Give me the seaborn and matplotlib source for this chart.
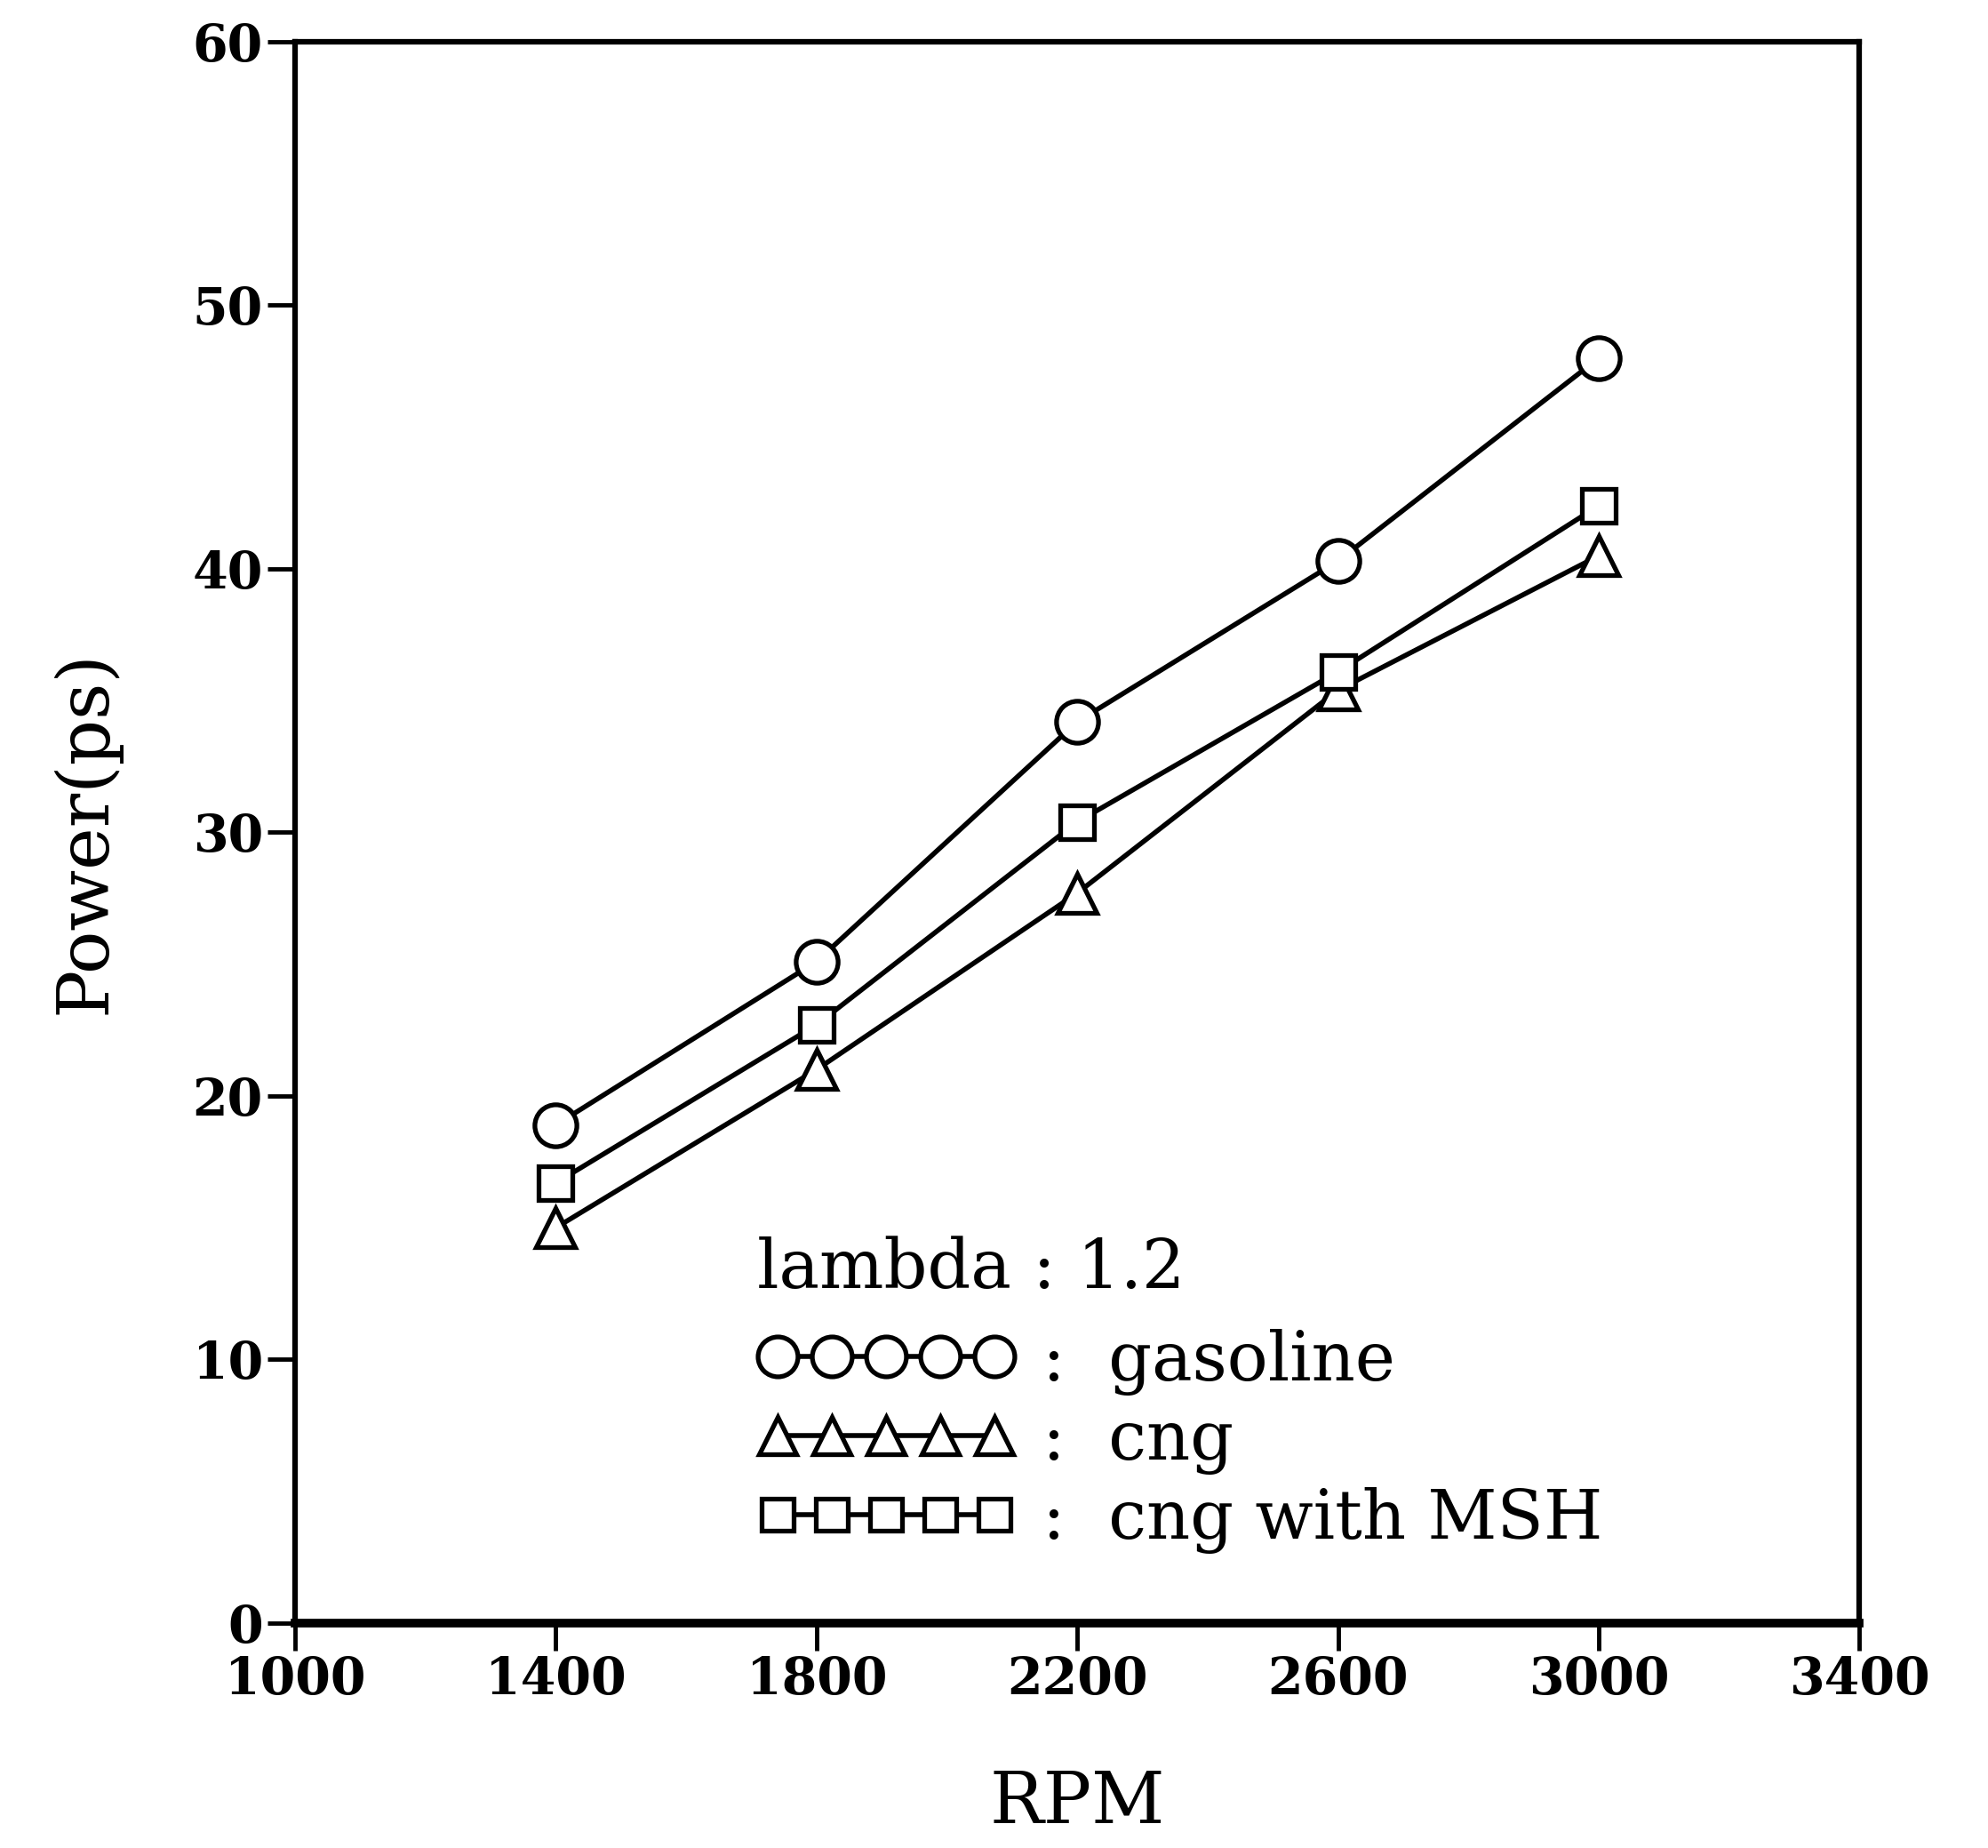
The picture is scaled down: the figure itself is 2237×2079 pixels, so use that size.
import numpy as np
import pandas as pd
import matplotlib
matplotlib.use("Agg")
import matplotlib.pyplot as plt
import seaborn as sns

# values
rpm = [1400, 1800, 2200, 2600, 3000]
gasoline = [18.9, 25.1, 34.2, 40.3, 48.0]
cng = [15.0, 21.0, 27.7, 35.4, 40.5]
cng_msh = [16.7, 22.7, 30.4, 36.1, 42.4]

series_names = ["gasoline", "cng", "cng with MSH"]
series_markers = ["o", "^", "s"]
series_sizes = [34, 32, 28]

x_ticks = [1000, 1400, 1800, 2200, 2600, 3000, 3400]
y_ticks = [0, 10, 20, 30, 40, 50, 60]

df = pd.DataFrame({
    "RPM": rpm * 3,
    "Power": gasoline + cng + cng_msh,
    "fuel": [n for n in series_names for _ in rpm],
})

sns.set_style("ticks")
plt.rcParams["font.family"] = ["DejaVu Serif"]
plt.rcParams["text.color"] = "black"
plt.rcParams["axes.labelcolor"] = "black"
plt.rcParams["xtick.color"] = "black"
plt.rcParams["ytick.color"] = "black"

fig = plt.figure(figsize=(22.37, 20.79), dpi=100)
ax = fig.add_axes([0.1484, 0.1217, 0.787, 0.8557])

for name, mk, ms in zip(series_names, series_markers, series_sizes):
    sns.lineplot(data=df[df["fuel"] == name], x="RPM", y="Power", ax=ax,
                 color="black", linewidth=4, marker=mk, markersize=ms,
                 markerfacecolor="white", markeredgecolor="black",
                 markeredgewidth=3.8, label=":  " + name, legend=False)

ax.set_xlim(1000, 3400)
ax.set_ylim(0, 60)
ax.set_xticks(x_ticks)
ax.set_yticks(y_ticks)
ax.set_xticklabels([str(t) for t in x_ticks], fontsize=41, fontweight="bold")
ax.set_yticklabels([str(t) for t in y_ticks], fontsize=41, fontweight="bold")
ax.tick_params(axis="both", direction="out", length=22, width=3.5, pad=4)

for side in ["top", "right", "left", "bottom"]:
    ax.spines[side].set_visible(True)
    ax.spines[side].set_linewidth(4.5)
    ax.spines[side].set_color("black")
ax.spines["bottom"].set_linewidth(7)

ax.set_xlabel("RPM", fontsize=58, labelpad=52)
ax.set_ylabel("Power(ps)", fontsize=58, labelpad=58)

handles, labels = ax.get_legend_handles_labels()
leg = ax.legend(handles, labels,
                title="lambda : 1.2", title_fontsize=55, fontsize=55,
                numpoints=5, handlelength=3.8, handletextpad=0.4,
                labelspacing=0.18, frameon=False, alignment="left",
                loc="lower left", bbox_to_anchor=(0.265, 0.014),
                borderpad=0.2, markerscale=0.95)
leg._legend_box.sep = 22

fig.savefig("out.png", dpi=100, facecolor="white")
